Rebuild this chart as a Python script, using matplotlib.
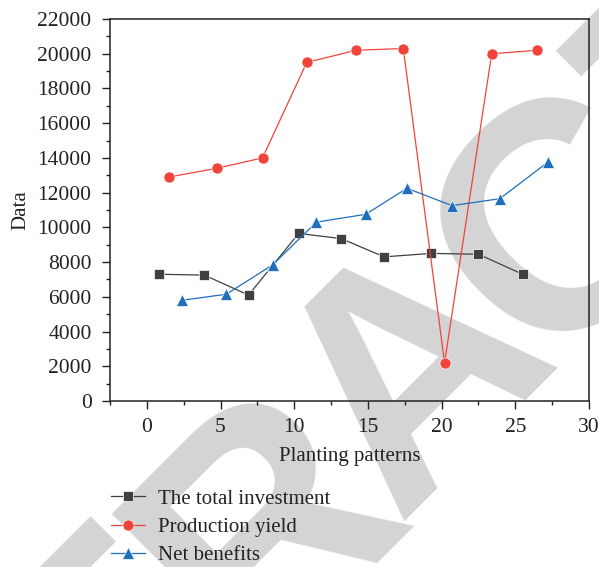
import matplotlib
matplotlib.use('Agg')
import matplotlib.pyplot as plt
from matplotlib.ticker import MultipleLocator

# values
x_invest = [0.8, 3.9, 6.9, 10.3, 13.2, 16.1, 19.3, 22.5, 25.5]
invest = [7300, 7250, 6100, 9650, 9350, 8300, 8500, 8450, 7300]

x_yield = [1.5, 4.75, 7.85, 10.85, 14.2, 17.4, 20.2, 23.4, 26.5]
yield_ = [12900, 13400, 14000, 19500, 20200, 20300, 2200, 20000, 20200]

x_net = [2.4, 5.4, 8.55, 11.5, 14.85, 17.65, 20.7, 23.95, 27.2]
net = [5800, 6150, 7850, 10300, 10750, 12250, 11250, 11650, 13750]

labels = ['The total investment', 'Production yield', 'Net benefits']

plt.rcParams['font.family'] = ['Liberation Serif', 'DejaVu Serif']

fig = plt.figure(figsize=(5.99, 5.67), dpi=100)

# retraction watermark, one letter at a time along a 45 degree line
mark = 'RETRACTED'
for i, ch in enumerate(mark):
    k = i - 4  # the A sits at the anchor
    fig.text(0.800 + 0.2504 * k, 0.2275 + 0.2646 * k, ch, fontsize=233,
             rotation=45, rotation_mode='anchor', color='#d4d4d4',
             family=['Liberation Sans Narrow', 'Liberation Sans'],
             weight='bold', ha='center', va='baseline', zorder=0)

ax = fig.add_axes([0.1836, 0.2928, 0.7997, 0.6737])
ax.set_zorder(1)
ax.patch.set_alpha(0)

ax.plot(x_invest, invest, color='#404040', lw=0.9, marker='s', ms=7,
        mec='white', mew=0.5, label=labels[0])
ax.plot(x_yield, yield_, color='#f0443a', lw=0.9, marker='o', ms=8,
        mec='white', mew=0.5, label=labels[1])
ax.plot(x_net, net, color='#1f6fbd', lw=0.9, marker='^', ms=9,
        mec='white', mew=0.5, label=labels[2])

ax.set_xlim(-2.5, 30)
ax.set_ylim(0, 22000)
ax.xaxis.set_major_locator(MultipleLocator(5))
ax.xaxis.set_minor_locator(MultipleLocator(2.5))
ax.yaxis.set_major_locator(MultipleLocator(2000))
ax.yaxis.set_minor_locator(MultipleLocator(1000))
ax.tick_params(which='both', direction='out', top=False, right=False,
               labelsize=15.5, color='#222222', labelcolor='#222222')
ax.tick_params(axis='y', which='major', pad=7.5)
ax.tick_params(axis='x', which='major', pad=6.5)
ax.tick_params(which='major', length=5.8, width=1)
ax.tick_params(which='minor', length=3, width=1)
for s in ax.spines.values():
    s.set_color('#222222')
    s.set_linewidth(1.1)

ax.set_xlabel('Planting patterns', fontsize=15, color='#222222', labelpad=7)
ax.set_ylabel('Data', fontsize=15, color='#222222', labelpad=5)

leg = fig.legend(loc='upper left', bbox_to_anchor=(0.172, 0.152), frameon=False,
                 fontsize=15, handlelength=1.6, handletextpad=0.65,
                 labelspacing=0.42, borderaxespad=0, labelcolor='#222222')
leg.set_zorder(2)

fig.savefig('out.png', dpi=100)
